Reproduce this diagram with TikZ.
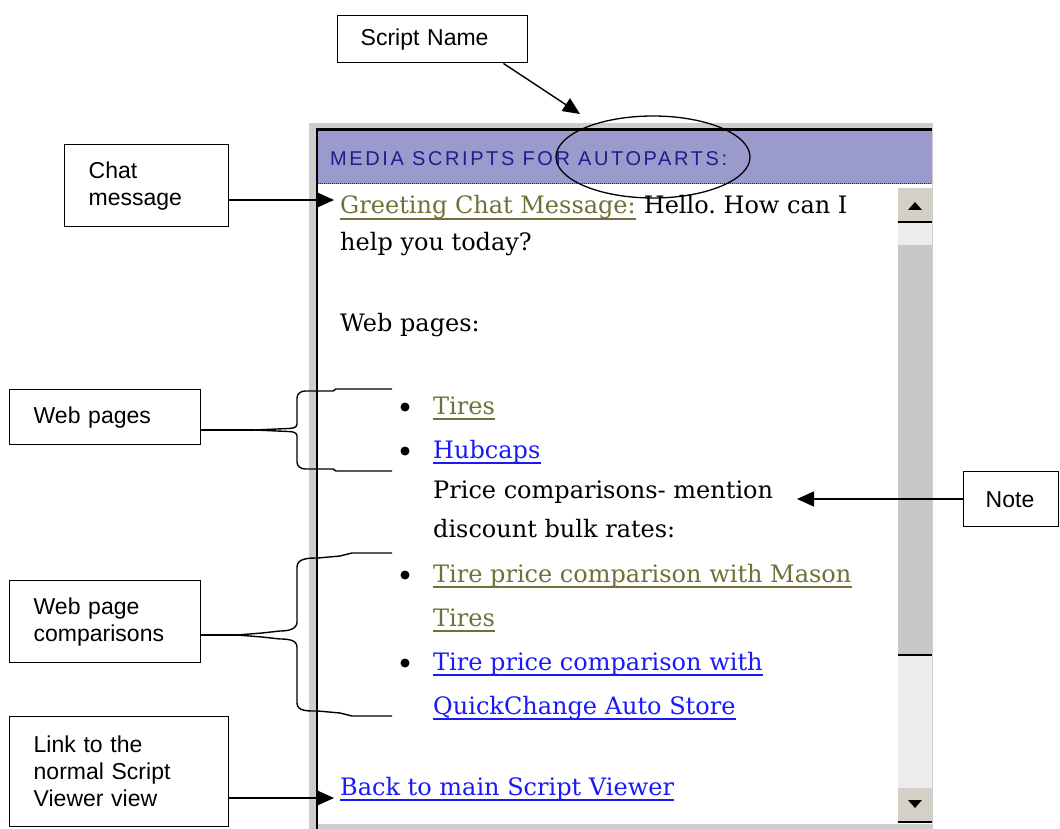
\documentclass[tikz,border=0pt]{standalone}
\usepackage{fontspec}
\setmainfont{DejaVu Serif}
\newfontfamily\labfont{Liberation Sans}
\newfontfamily\hdrfont[LetterSpace=13]{Liberation Sans}
\usetikzlibrary{arrows.meta,shapes.geometric,calc}
\definecolor{visited}{RGB}{112,112,56}
\definecolor{linkb}{RGB}{25,25,250}
\definecolor{hdrbg}{RGB}{154,154,204}
\definecolor{hdrtx}{RGB}{30,30,140}
\definecolor{frameg}{RGB}{205,205,205}
\definecolor{btn}{RGB}{212,208,200}
\definecolor{trk}{RGB}{236,236,236}
\definecolor{thumb}{RGB}{200,200,200}
\frenchspacing
\begin{document}
\begin{tikzpicture}[x=1pt,y=-1pt,
  lbl/.style={draw, line width=1.4pt, font=\labfont\fontsize{23}{27}\selectfont,
    align=left, anchor=north west, inner ysep=0pt},
  ptext/.style={font=\fontsize{24}{28}\selectfont, anchor=base west, inner sep=0pt},
  arr/.style={line width=1.4pt, -{Triangle[length=17pt,width=15pt]}},
  brace/.style={line width=1.4pt, line join=round},
  ulv/.style={visited, line width=1.3pt},
  ulb/.style={linkb, line width=1.3pt},
  bul/.style={circle, fill=black, inner sep=0pt, minimum size=9pt}]
\useasboundingbox (0,0) rectangle (1060,829);

% ---------- panel ----------
\fill[frameg] (309,123) rectangle (933,829);
\fill[white] (318,184) rectangle (932,824);
\fill[hdrbg] (318,131) rectangle (932,184);
\draw[hdrtx, densely dotted, line width=1pt] (318,184) -- (932,184);
\draw[line width=3pt] (316,129.5) -- (932,129.5);
\draw[line width=2.5pt] (317,129) -- (317,829);

% scrollbar
\fill[btn] (898,188) rectangle (932,222);
\draw[line width=2pt] (898,222) -- (932,222);
\fill[black] (908,210) -- (922,210) -- (915,202) -- cycle;
\fill[trk] (898,223) rectangle (932,245);
\fill[thumb] (898,245) rectangle (932,655);
\draw[line width=2pt] (898,655) -- (932,655);
\fill[trk] (898,656) rectangle (932,788);
\fill[btn] (898,788) rectangle (932,822);
\draw[line width=2pt] (898,822) -- (932,822);
\fill[black] (908,800) -- (922,800) -- (915,808) -- cycle;

% header
\node[anchor=base west, inner sep=0pt, text=hdrtx, font=\hdrfont\fontsize{20}{24}\selectfont] (hdr) at (330,166) {MEDIA SCRIPTS FOR AUTOPARTS:};
\node[draw, ellipse, line width=1.3pt, minimum width=194pt, minimum height=82pt, inner sep=0pt] (oval) at (653,157) {};

% panel text
\node[ptext, text=visited] (greet) at (340,214) {Greeting Chat Message:};
\draw[ulv] ([yshift=-5pt]greet.base west) -- ([yshift=-5pt]greet.base east);
\node[ptext] (hello) at (greet.base east) {\ Hello. How can I};
\node[ptext] (help) at (340,251) {help you today?};
\node[ptext] (webp) at (340,331) {Web pages:};
\node[bul] (b1) at (405,407) {};
\node[ptext, text=visited] (tires) at (433,414) {Tires};
\draw[ulv] ([yshift=-5pt]tires.base west) -- ([yshift=-5pt]tires.base east);
\node[bul] (b2) at (405,451) {};
\node[ptext, text=linkb] (hub) at (433,458) {Hubcaps};
\draw[ulb] ([yshift=-5pt]hub.base west) -- ([yshift=-5pt]hub.base east);
\node[ptext] (price) at (433,498) {Price comparisons- mention};
\node[ptext] (disc) at (433,537) {discount bulk rates:};
\node[bul] (b3) at (405,575) {};
\node[ptext, text=visited] (mas1) at (433,582) {Tire price comparison with Mason};
\draw[ulv] ([yshift=-5pt]mas1.base west) -- ([yshift=-5pt]mas1.base east);
\node[ptext, text=visited] (mas2) at (433,626) {Tires};
\draw[ulv] ([yshift=-5pt]mas2.base west) -- ([yshift=-5pt]mas2.base east);
\node[bul] (b4) at (405,663) {};
\node[ptext, text=linkb] (qc1) at (433,670) {Tire price comparison with};
\draw[ulb] ([yshift=-5pt]qc1.base west) -- ([yshift=-5pt]qc1.base east);
\node[ptext, text=linkb] (qc2) at (433,714) {QuickChange Auto Store};
\draw[ulb] ([yshift=-5pt]qc2.base west) -- ([yshift=-5pt]qc2.base east);
\node[ptext, text=linkb] (back) at (340,795) {Back to main Script Viewer};
\draw[ulb] ([yshift=-5pt]back.base west) -- ([yshift=-5pt]back.base east);

% ---------- labels ----------
\node[lbl, inner xsep=23pt, text width=144pt, minimum height=47pt] (sn) at (337,15) {Script Name};
\node[lbl, inner xsep=24pt, text width=116pt, minimum height=82pt] (chat) at (64,144) {Chat\\message};
\node[lbl, inner xsep=24pt, text width=143pt, minimum height=55pt] (wp) at (9,389) {Web pages};
\node[lbl, inner xsep=24pt, text width=143pt, minimum height=82pt] (wpc) at (9,580) {Web page\\comparisons};
\node[lbl, inner xsep=24pt, text width=171pt, minimum height=110pt] (link) at (9,716) {Link to the\\normal Script\\Viewer view};
\node[lbl, inner xsep=22pt, text width=51pt, minimum height=55pt] (note) at (963,471) {Note};

% ---------- connectors ----------
\coordinate (snfrom) at ($(sn.south east)+(-25,0)$);
\coordinate (sntip) at (580,114);
\draw[arr] (snfrom) -- (sntip);
\coordinate (chattip) at (334,200);
\draw[arr] (chat.east |- chattip) -- (chattip);
\coordinate (notetip) at (797,499);
\draw[arr] (note.west |- notetip) -- (notetip);
\coordinate (linktip) at (334,798);
\draw[arr] (link.east |- linktip) -- (linktip);

% brace for web pages
\coordinate (t1) at (255,430);
\draw[brace] (wp.east |- t1) -- (t1);
\draw[brace] (392,389) -- (336,389) -- (333,391) -- (305,391) to[out=180,in=90] (297,398) -- (297,424) to[out=-90,in=0] (288,428.5) -- (t1);
\draw[brace] (392,471) -- (336,471) -- (333,469) -- (305,469) to[out=180,in=-90] (297,462) -- (297,436) to[out=90,in=0] (288,431.5) -- (t1);

% brace for comparisons
\coordinate (t2) at (237,635);
\draw[brace] (wpc.east |- t2) -- (t2);
\draw[brace] (392,553) -- (352,553) -- (340,556) -- (318,558) to[out=180,in=90] (297,567) -- (297,622) to[out=-90,in=0] (280,631) -- (262,633) -- (t2);
\draw[brace] (392,716) -- (352,716) -- (340,713) -- (318,711) to[out=180,in=-90] (297,703) -- (297,647) to[out=90,in=0] (280,639) -- (262,637) -- (t2);
\end{tikzpicture}
\end{document}
